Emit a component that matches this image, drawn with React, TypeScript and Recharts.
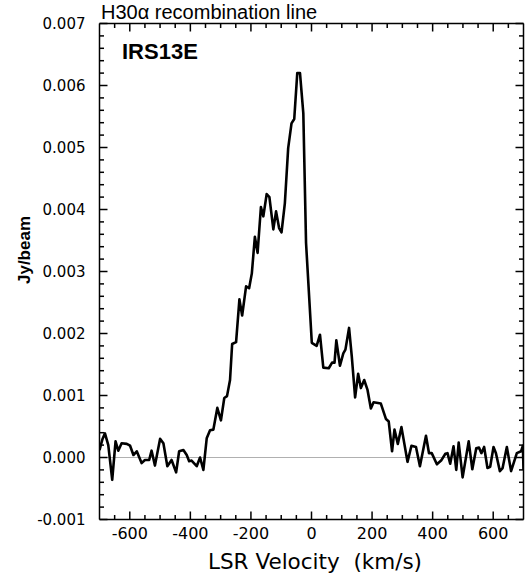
import React from 'react';
import { LineChart, Line, XAxis, YAxis, ReferenceLine } from 'recharts';

// LSR velocity (km/s)
const velocity = [
  -700, -690, -682, -671, -658, -647, -638, -627, -610, -599, -588, -577, -561, -550, -536, -528,
  -517, -500, -489, -476, -462, -447, -437, -423, -412, -404, -396, -379, -368, -357, -346, -335,
  -324, -311, -299, -288, -279, -269, -262, -249, -238, -229, -216, -206, -197, -187, -178, -167,
  -159, -148, -139, -126, -117, -107, -99, -88, -77, -66, -57, -47, -38, -27, -18, 1,
  17, 28, 39, 57, 68, 76, 82, 94, 105, 112, 124, 133, 144, 154, 163, 174,
  185, 196, 205, 229, 246, 255, 266, 274, 285, 297, 317, 330, 345, 358, 378, 388,
  397, 414, 428, 442, 449, 458, 469, 478, 486, 499, 519, 531, 544, 553, 561, 570,
  581, 590, 601, 609, 622, 631, 645, 659, 678, 692, 698, 700,
];

// flux density in mJy/beam
const fluxMilliJy = [
  0.12, 0.30, 0.39, 0.20, -0.36, 0.26, 0.11, 0.23, 0.22, 0.19, 0.04, 0.10, -0.09, -0.04, -0.04, 0.11,
  -0.13, 0.30, 0.23, -0.14, -0.04, -0.24, 0.10, 0.12, 0.04, -0.06, -0.05, -0.14, 0.00, -0.20, 0.31, 0.44,
  0.45, 0.80, 0.60, 0.96, 0.99, 1.25, 1.83, 1.86, 2.55, 2.29, 2.76, 2.73, 2.97, 3.56, 3.30, 4.04,
  3.89, 4.25, 4.20, 3.68, 3.97, 3.70, 3.63, 4.10, 4.99, 5.39, 5.46, 6.20, 6.20, 5.55, 3.46, 1.85,
  1.80, 1.98, 1.45, 1.44, 1.53, 1.53, 1.89, 1.48, 1.68, 1.74, 2.09, 1.63, 0.97, 1.35, 1.12, 1.25,
  1.09, 0.79, 0.89, 0.87, 0.62, 0.58, 0.10, 0.45, 0.22, 0.49, -0.07, 0.19, 0.17, -0.14, 0.35, 0.07,
  0.07, -0.11, -0.05, 0.06, 0.07, -0.10, 0.18, -0.20, 0.24, -0.32, 0.26, -0.19, 0.15, 0.16, 0.07, 0.17,
  -0.17, -0.15, 0.17, 0.07, -0.22, -0.17, 0.17, -0.22, 0.07, 0.10, 0.19, -0.20,
];

const xTicks = [
  -650, -600, -550, -500, -450, -400, -350, -300, -250, -200, -150, -100, -50, 0,
  50, 100, 150, 200, 250, 300, 350, 400, 450, 500, 550, 600, 650,
];
const xMajorTicks = [-600, -400, -200, 0, 200, 400, 600];

const yMinorTicks = [
  -0.0008, -0.0006, -0.0004, -0.0002, 0.0002, 0.0004, 0.0006, 0.0008,
  0.0012, 0.0014, 0.0016, 0.0018, 0.0022, 0.0024, 0.0026, 0.0028,
  0.0032, 0.0034, 0.0036, 0.0038, 0.0042, 0.0044, 0.0046, 0.0048,
  0.0052, 0.0054, 0.0056, 0.0058, 0.0062, 0.0064, 0.0066, 0.0068,
];
const yMajorTicks = [-0.001, 0, 0.001, 0.002, 0.003, 0.004, 0.005, 0.006, 0.007];

const data = velocity.map((v, i) => ({ v, flux: fluxMilliJy[i] / 1000 }));

const TICK_FONT = '"DejaVu Sans", sans-serif';
const SANS = '"Liberation Sans", Arial, sans-serif';
const MAJOR = 8;
const MINOR = 4.5;
const SW = 1.5;

const isXMajor = (v: number) => xMajorTicks.includes(v);
const isYMajor = (v: number) => yMajorTicks.some((m) => Math.abs(m - v) < 1e-9);

const BottomTick = (props: any) => {
  const { x, y, payload } = props;
  const v = payload.value;
  const major = isXMajor(v);
  return (
    <g>
      <line x1={x} x2={x} y1={y} y2={y - (major ? MAJOR : MINOR)} stroke="#000" strokeWidth={SW} />
      {major && (
        <text x={x} y={y + 14} textAnchor="middle" dominantBaseline="central" fontFamily={TICK_FONT} fontSize={16} fill="#000">
          {v}
        </text>
      )}
    </g>
  );
};

const TopTick = (props: any) => {
  const { x, y, payload } = props;
  const major = isXMajor(payload.value);
  return <line x1={x} x2={x} y1={y} y2={y + (major ? MAJOR : MINOR)} stroke="#000" strokeWidth={SW} />;
};

const LeftTick = (props: any) => {
  const { x, y, payload } = props;
  const v = payload.value;
  const major = isYMajor(v);
  return (
    <g>
      <line x1={x} x2={x + (major ? MAJOR : MINOR)} y1={y} y2={y} stroke="#000" strokeWidth={SW} />
      {major && (
        <text x={x - 14} y={y} textAnchor="end" dominantBaseline="central" fontFamily={TICK_FONT} fontSize={15} fill="#000">
          {v.toFixed(3)}
        </text>
      )}
    </g>
  );
};

const RightTick = (props: any) => {
  const { x, y, payload } = props;
  const major = isYMajor(payload.value);
  return <line x1={x} x2={x - (major ? MAJOR : MINOR)} y1={y} y2={y} stroke="#000" strokeWidth={SW} />;
};

const allYTicks = [...yMajorTicks, ...yMinorTicks].sort((a, b) => a - b);

export default function App() {
  return (
    <div style={{ position: 'absolute', left: 0, top: 0, width: 529, height: 581, background: '#fff' }}>
      <LineChart
        width={529}
        height={581}
        data={data}
        margin={{ top: 13.5, right: 0.5, bottom: 31.5, left: 39.5 }}
      >
        <XAxis
          dataKey="v"
          type="number"
          domain={[-700, 700]}
          allowDataOverflow
          ticks={xTicks}
          interval={0}
          tickSize={0}
          tickMargin={0}
          tickLine={false}
          axisLine={{ stroke: '#000', strokeWidth: SW }}
          tick={<BottomTick />}
          height={30}
        />
        <XAxis
          xAxisId="top"
          orientation="top"
          dataKey="v"
          type="number"
          domain={[-700, 700]}
          allowDataOverflow
          ticks={xTicks}
          interval={0}
          tickSize={0}
          tickMargin={0}
          tickLine={false}
          axisLine={{ stroke: '#000', strokeWidth: SW }}
          tick={<TopTick />}
          height={10}
        />
        <YAxis
          type="number"
          domain={[-0.001, 0.007]}
          allowDataOverflow
          ticks={allYTicks}
          interval={0}
          tickSize={0}
          tickMargin={0}
          tickLine={false}
          axisLine={{ stroke: '#000', strokeWidth: SW }}
          tick={<LeftTick />}
          width={60}
        />
        <YAxis
          yAxisId="right"
          orientation="right"
          type="number"
          domain={[-0.001, 0.007]}
          allowDataOverflow
          ticks={allYTicks}
          interval={0}
          tickSize={0}
          tickMargin={0}
          tickLine={false}
          axisLine={{ stroke: '#000', strokeWidth: SW }}
          tick={<RightTick />}
          width={5}
        />
        <ReferenceLine y={0} stroke="#b0b0b0" strokeWidth={1} />
        <Line
          type="linear"
          dataKey="flux"
          stroke="#000"
          strokeWidth={2.6}
          strokeLinejoin="round"
          dot={false}
          isAnimationActive={false}
        />
        <Line
          type="linear"
          dataKey="flux"
          xAxisId="top"
          yAxisId="right"
          stroke="none"
          dot={false}
          legendType="none"
          isAnimationActive={false}
        />
      </LineChart>
      <div style={{ position: 'absolute', left: 101, top: 1, fontFamily: SANS, fontSize: 20, lineHeight: '22px', whiteSpace: 'pre', color: '#000' }}>
        H30α recombination line
      </div>
      <div style={{ position: 'absolute', left: 122, top: 40, fontFamily: SANS, fontSize: 22, fontWeight: 'bold', lineHeight: '24px', whiteSpace: 'pre', color: '#000' }}>
        IRS13E
      </div>
      <div style={{ position: 'absolute', left: 315, top: 562, transform: 'translate(-50%, -50%)', fontFamily: TICK_FONT, fontSize: 21.5, lineHeight: '24px', whiteSpace: 'pre', color: '#000' }}>
        {'LSR Velocity  (km/s)'}
      </div>
      <div style={{ position: 'absolute', left: 25, top: 250, transform: 'translate(-50%, -50%) rotate(-90deg)', fontFamily: SANS, fontSize: 17, fontWeight: 'bold', lineHeight: '20px', whiteSpace: 'pre', color: '#000' }}>
        Jy/beam
      </div>
    </div>
  );
}
